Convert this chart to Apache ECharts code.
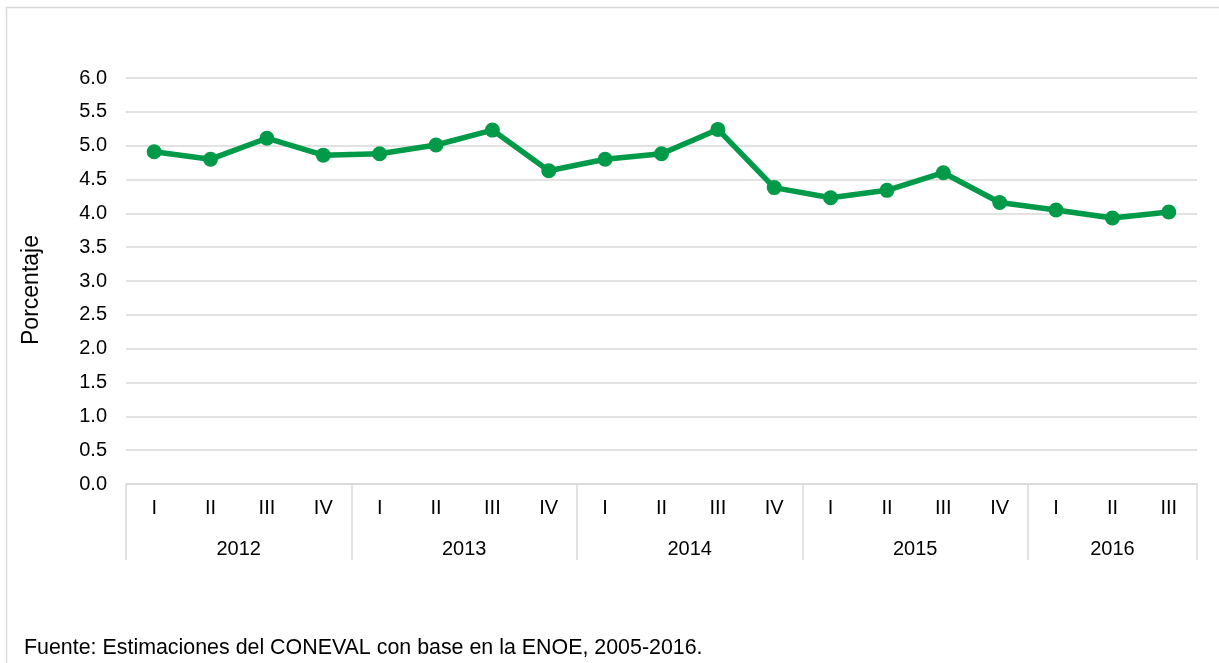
<!DOCTYPE html>
<html>
<head>
<meta charset="utf-8">
<script src="https://cdn.jsdelivr.net/npm/echarts@6/dist/echarts.min.js"></script>
<style>
  html, body { margin: 0; padding: 0; background: #fff; }
  #chart { width: 1219px; height: 663px; }
</style>
</head>
<body>
<div id="chart"></div>
<script>
// trimestres y años del eje X
const quarters = ['I', 'II', 'III', 'IV', 'I', 'II', 'III', 'IV', 'I', 'II', 'III', 'IV',
  'I', 'II', 'III', 'IV', 'I', 'II', 'III'];
const years = ['2012', '2013', '2014', '2015', '2016'];
const yearCenters = [2, 6, 10, 14, 17.5];
const yearBounds = [0, 4, 8, 12, 16, 19];

// porcentaje por trimestre
const values = [4.91, 4.80, 5.11, 4.86, 4.88, 5.01, 5.23, 4.63, 4.80, 4.88, 5.24,
  4.38, 4.23, 4.34, 4.60, 4.16, 4.05, 3.93, 4.02];

const yTicks = { min: 0, max: 6, interval: 0.5 };

const font = 'Liberation Sans, Arial, sans-serif';
const gray = '#d9d9d9';
const green = '#009a49';

const chart = echarts.init(document.getElementById('chart'));

chart.setOption({
  animation: false,
  textStyle: { fontFamily: font },
  grid: { left: 126, right: 22, top: 78, bottom: 179 },
  graphic: [
    {
      type: 'rect',
      shape: { x: 6.5, y: 7.5, width: 1300, height: 700 },
      style: { fill: 'none', stroke: gray, lineWidth: 1.5 },
    },
    {
      /* título del eje Y, centrado como en el original */
      type: 'text',
      x: 32,
      y: 290,
      rotation: Math.PI / 2,
      style: {
        text: 'Porcentaje',
        font: '23px ' + font,
        fill: '#000',
        align: 'center',
        verticalAlign: 'middle',
      },
    },
    {
      type: 'text',
      left: 24,
      top: 638,
      style: {
        text: 'Fuente: Estimaciones del CONEVAL con base en la ENOE, 2005-2016.',
        font: '21.4px ' + font,
        fill: '#000',
      },
    },
  ],
  xAxis: [
    {
      type: 'category',
      data: quarters,
      boundaryGap: true,
      axisLine: { lineStyle: { color: gray, width: 1.5 } },
      axisTick: { show: false },
      axisLabel: { color: '#000', fontSize: 20, margin: 14, interval: 0 },
    },
    {
      type: 'value',
      min: 0,
      max: 19,
      position: 'bottom',
      axisLine: { show: false },
      splitLine: { show: false },
      axisTick: {
        show: true,
        length: 76,
        customValues: yearBounds,
        lineStyle: { color: gray, width: 1.5 },
      },
      axisLabel: {
        color: '#000',
        fontSize: 20,
        margin: 55,
        customValues: yearCenters,
        formatter: (v) => years[yearCenters.indexOf(v)],
      },
    },
  ],
  yAxis: {
    type: 'value',
    ...yTicks,
    axisLine: { show: false },
    axisTick: { show: false },
    splitLine: { lineStyle: { color: gray, width: 1.5 } },
    axisLabel: {
      color: '#000',
      fontSize: 20,
      margin: 19,
      formatter: (v) => v.toFixed(1),
    },
  },
  series: [
    {
      type: 'line',
      data: values,
      xAxisIndex: 0,
      symbol: 'circle',
      symbolSize: 15,
      itemStyle: { color: green },
      lineStyle: { color: green, width: 5.5 },
    },
  ],
});
</script>
</body>
</html>
